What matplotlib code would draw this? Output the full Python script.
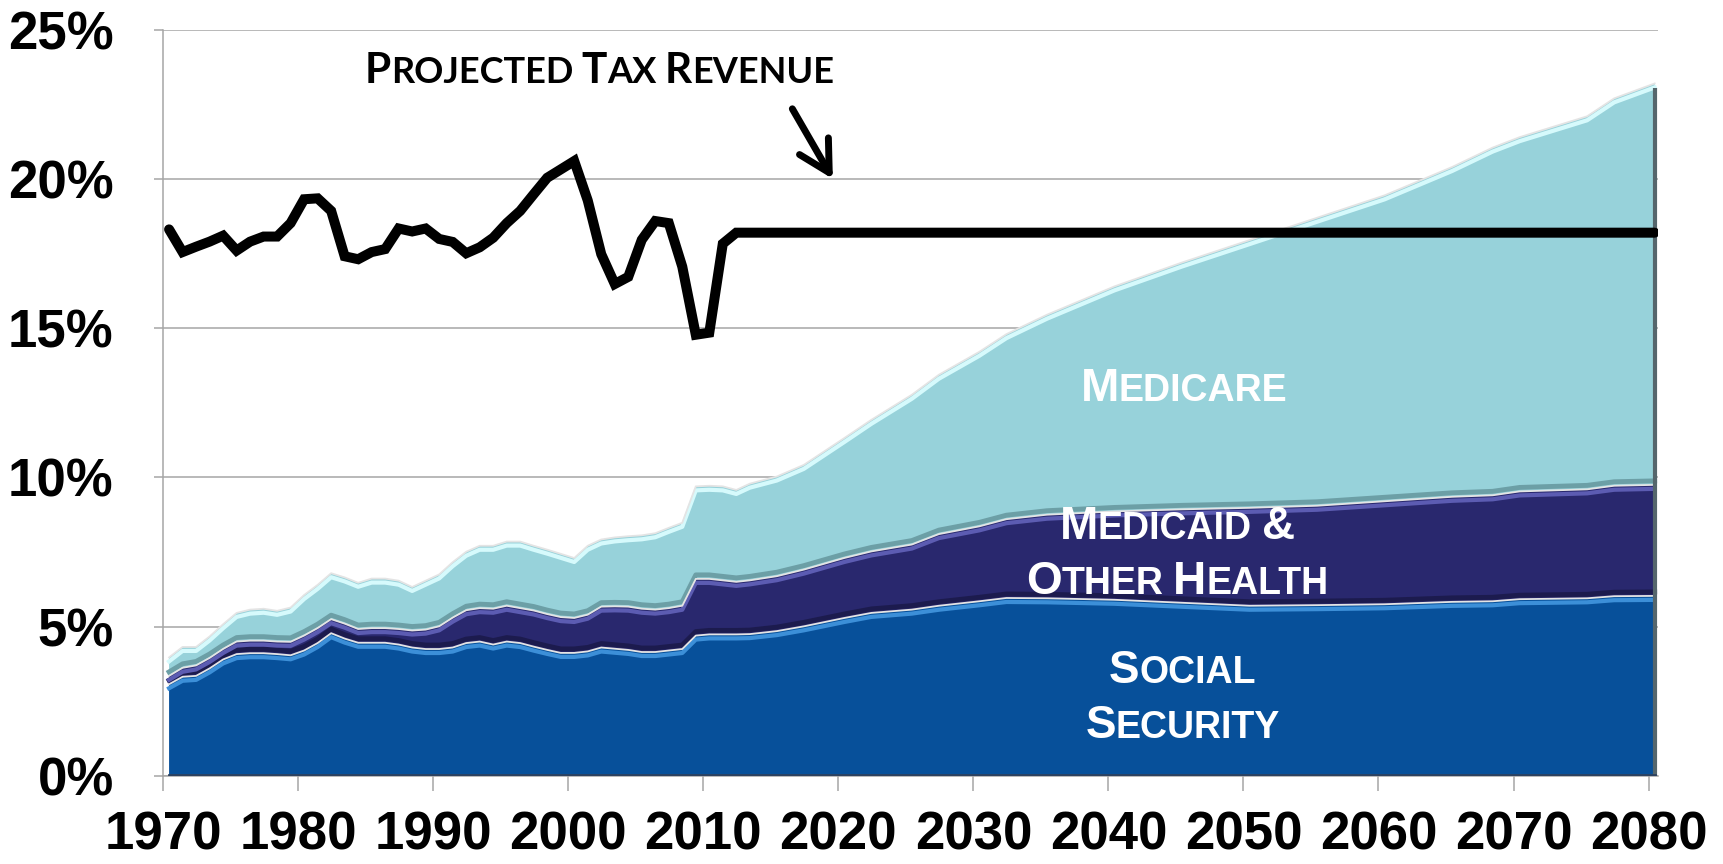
import matplotlib
matplotlib.use("Agg")

import matplotlib.pyplot as plt
import matplotlib.transforms as mtransforms
from matplotlib.offsetbox import AnnotationBbox, HPacker, TextArea, VPacker
import numpy as np

# ---------------------------------------------------------------------------
# Data: spending by programme and federal tax revenue, percent of GDP
# ---------------------------------------------------------------------------

years = list(range(1970, 2014)) + [
    2015, 2017, 2020, 2022, 2025, 2027, 2030, 2032, 2035, 2040,
    2045, 2050, 2055, 2060, 2065, 2068, 2070, 2075, 2077, 2080,
]

social_security = [
    3.07, 3.32, 3.35, 3.60, 3.90, 4.08, 4.11, 4.11, 4.08, 4.04,
    4.20, 4.45, 4.78, 4.60, 4.46, 4.46, 4.46, 4.40, 4.30, 4.25,
    4.25, 4.30, 4.45, 4.50, 4.40, 4.50, 4.45, 4.33, 4.22, 4.12,
    4.12, 4.17, 4.30, 4.26, 4.22, 4.15, 4.15, 4.20, 4.25, 4.70,
    4.74, 4.74, 4.74, 4.75,
    4.85, 5.01, 5.29, 5.46, 5.57, 5.70, 5.85, 5.96, 5.95, 5.90,
    5.80, 5.70, 5.72, 5.75, 5.83, 5.85, 5.92, 5.95, 6.02, 6.03,
]

medicaid_other_health = [
    0.28, 0.30, 0.35, 0.35, 0.35, 0.42, 0.42, 0.42, 0.42, 0.45,
    0.50, 0.50, 0.47, 0.50, 0.46, 0.49, 0.49, 0.52, 0.57, 0.65,
    0.76, 1.00, 1.10, 1.12, 1.20, 1.20, 1.17, 1.21, 1.20, 1.20,
    1.17, 1.23, 1.37, 1.42, 1.45, 1.45, 1.42, 1.42, 1.45, 1.90,
    1.86, 1.81, 1.76, 1.80,
    1.84, 1.90, 2.01, 2.06, 2.18, 2.40, 2.51, 2.64, 2.80, 2.96,
    3.13, 3.28, 3.33, 3.45, 3.52, 3.55, 3.61, 3.65, 3.70, 3.72,
]

medicare = [
    0.62, 0.70, 0.62, 0.72, 0.83, 0.96, 1.04, 1.07, 1.03, 1.15,
    1.36, 1.45, 1.54, 1.55, 1.55, 1.66, 1.66, 1.62, 1.46, 1.64,
    1.74, 1.86, 1.96, 2.09, 2.11, 2.15, 2.23, 2.17, 2.16, 2.12,
    2.01, 2.31, 2.25, 2.31, 2.36, 2.46, 2.56, 2.69, 2.78, 3.10,
    3.12, 3.15, 3.08, 3.24,
    3.34, 3.51, 4.02, 4.41, 5.02, 5.34, 5.85, 6.20, 6.70, 7.54,
    8.27, 8.97, 9.65, 10.25, 11.05, 11.65, 11.87, 12.50, 12.98, 13.45,
]

tax_years = list(range(1970, 2013)) + [2080]
tax_revenue = [
    18.31, 17.55, 17.73, 17.90, 18.10, 17.60, 17.90, 18.07, 18.07, 18.52,
    19.32, 19.35, 18.93, 17.41, 17.31, 17.55, 17.65, 18.34, 18.24, 18.34,
    17.99, 17.89, 17.51, 17.71, 18.03, 18.52, 18.93, 19.49, 20.04, 20.32,
    20.60, 19.28, 17.48, 16.48, 16.72, 17.96, 18.59, 18.52, 17.06, 14.78,
    14.85, 17.83, 18.20,
    18.20,
]

tick_years = list(range(1970, 2081, 10))
pct_ticks = [0, 5, 10, 15, 20, 25]

# Annual values are drawn at mid-year
X_SHIFT = 0.45

SS_COLOR = "#07509A"
MCD_COLOR = "#29286E"
MCR_COLOR = "#97D2DA"

AXIS_FONT = ["Liberation Sans", "DejaVu Sans"]
TITLE_FONT = ["Lato", "Liberation Sans", "DejaVu Sans"]


def caps_word(word, big, small, color, family):
    """One word in small caps: first letter full size, the rest smaller."""
    props = dict(color=color, fontweight="bold", family=family)
    parts = [TextArea(word[0], textprops=dict(size=big, **props))]
    if len(word) > 1:
        parts.append(TextArea(word[1:].upper(), textprops=dict(size=small, **props)))
    return HPacker(children=parts, align="baseline", pad=0, sep=0)


def caps_label(ax, lines, xy, big, small, color, family, gap, line_sep=0):
    rows = []
    for line in lines:
        words = [caps_word(w, big, small, color, family) for w in line.split()]
        rows.append(HPacker(children=words, align="baseline", pad=0, sep=gap))
    box = VPacker(children=rows, align="center", pad=0, sep=line_sep)
    ab = AnnotationBbox(box, xy, xycoords="data", frameon=False,
                        box_alignment=(0.5, 0.5), pad=0, zorder=8)
    ax.add_artist(ab)


fig = plt.figure(figsize=(17.23, 8.64), dpi=100)
ax = fig.add_axes([0.0946, 0.102, 0.8677, 0.8636])

x = np.array(years) + X_SHIFT
ss_top = np.array(social_security)
mcd_top = ss_top + np.array(medicaid_other_health)
total = mcd_top + np.array(medicare)


def shifted(dy):
    return mtransforms.offset_copy(ax.transData, fig=fig, x=0, y=dy, units="dots")


# Stacked areas
ax.fill_between(x, 0, ss_top, facecolor=SS_COLOR, edgecolor="none", zorder=2)
ax.fill_between(x, ss_top, mcd_top, facecolor=MCD_COLOR, edgecolor="none", zorder=2)
ax.fill_between(x, mcd_top, total, facecolor=MCR_COLOR, edgecolor="none", zorder=2)

# Bevel: dark band under each upper layer, bright band along each top
ax.plot(x, ss_top, color="#1C1B4E", lw=3.5, transform=shifted(4), zorder=3)
ax.plot(x, mcd_top, color="#6C9FA6", lw=3.5, transform=shifted(4), zorder=3)
for top, light in ((ss_top, "#3C8FD8"), (mcd_top, "#5C5CB2"), (total, "#D6FAFC")):
    ax.plot(x, top, color=light, lw=3.0, transform=shifted(-4), zorder=3)
    ax.plot(x, top, color="#E4E4E4", lw=1.3, zorder=4)

# Side and floor shading
ax.plot([x[-1], x[-1]], [0, total[-1] - 0.15], color="#55666C", lw=3.0,
        solid_capstyle="butt", zorder=4)
ax.plot([x[0], x[-1]], [0, 0], color="#2D4260", lw=2.0,
        transform=shifted(1), zorder=4)

# Tax revenue line
ax.plot(np.array(tax_years) + X_SHIFT, tax_revenue, color="black", lw=7.2,
        solid_capstyle="round", solid_joinstyle="miter", zorder=6)

ax.annotate("", xy=(2019.6, 20.0), xytext=(2016.6, 22.35),
            arrowprops=dict(arrowstyle="->,head_length=2.2,head_width=1.2",
                            lw=5, color="black", shrinkA=0, shrinkB=0),
            zorder=7)

caps_label(ax, ["Projected Tax Revenue"], (2002.3, 23.62), 30.5, 26, "black",
           TITLE_FONT, gap=6)
caps_label(ax, ["Medicare"], (2045.6, 12.95), 33, 27, "white", AXIS_FONT, gap=7)
caps_label(ax, ["Medicaid &", "Other Health"], (2045.1, 7.42), 33, 27, "white",
           AXIS_FONT, gap=7, line_sep=8)
caps_label(ax, ["Social", "Security"], (2045.5, 2.6), 33, 27, "white",
           AXIS_FONT, gap=7, line_sep=8)

# Axes
ax.set_xlim(1970, 2080.7)
ax.set_ylim(0, 25)
ax.set_xticks(tick_years)
ax.set_xticklabels([str(y) for y in tick_years])
ax.set_yticks(pct_ticks)
ax.set_yticklabels([f"{p}%" for p in pct_ticks])
ax.grid(True, axis="y", color="#A6A6A6", lw=1.1)
ax.set_axisbelow(True)
for side in ("top", "right"):
    ax.spines[side].set_visible(False)
for side in ("left", "bottom"):
    ax.spines[side].set_color("#A6A6A6")
    ax.spines[side].set_linewidth(1.1)
ax.tick_params(axis="x", direction="out", length=11, width=1.1, color="#A6A6A6",
               pad=14)
ax.tick_params(axis="y", direction="out", length=6.5, width=1.1, color="#A6A6A6",
               pad=29)
for lab in ax.get_xticklabels() + ax.get_yticklabels():
    lab.set_family(AXIS_FONT)
    lab.set_fontweight("bold")
    lab.set_fontsize(38)

fig.savefig("out.png", dpi=100)
